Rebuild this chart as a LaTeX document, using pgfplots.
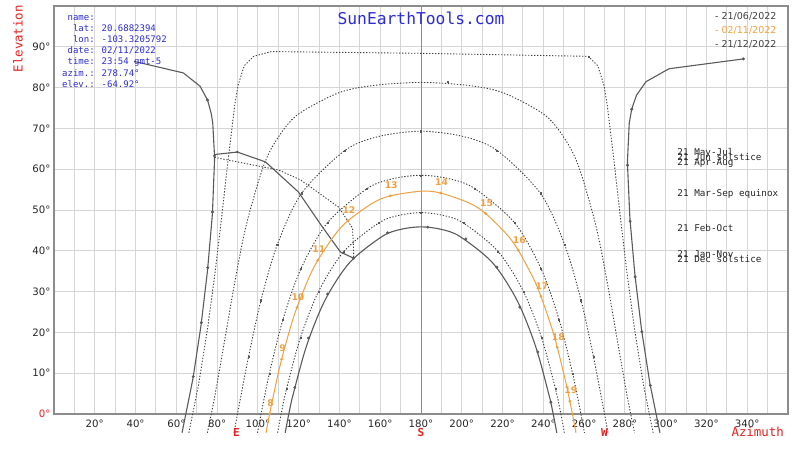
\documentclass[border=0pt]{standalone}
\usepackage{pgfplots}
\pgfplotsset{compat=1.18}
\usepackage{fontspec}
\setmainfont{DejaVu Sans}
\newfontfamily\monofont{DejaVu Sans Mono}
\definecolor{curvegray}{HTML}{5A5A5A}
\definecolor{dotgray}{HTML}{3C3C3C}
\definecolor{sunorange}{HTML}{F0A040}
\definecolor{infoblue}{HTML}{2B2BD8}
\definecolor{axred}{HTML}{E82020}
\definecolor{gridgray}{HTML}{D6D6D6}
\definecolor{framegray}{HTML}{8C8C8C}
\begin{document}
\begin{tikzpicture}
\begin{axis}[
  name=ax, at={(0,0)}, anchor=south west,
  scale only axis, width=734bp, height=408bp,
  xmin=0, xmax=360, ymin=0, ymax=100,
  clip=false,
  xtick={20,40,...,340},
  xticklabels={20°,40°,60°,80°,100°,120°,140°,160°,180°,200°,220°,240°,260°,280°,300°,320°,340°},
  minor xtick={10,30,...,350},
  ytick={0,10,...,90},
  yticklabels={{\textcolor{axred}{0°}},10°,20°,30°,40°,50°,60°,70°,80°,90°},
  grid=both,
  major grid style={draw=gridgray, line width=0.9bp},
  minor grid style={draw=gridgray, line width=0.9bp},
  major tick length=0pt, minor tick length=0pt,
  axis line style={draw=framegray, line width=1.2bp},
  tick label style={font=\fontsize{10.2bp}{12bp}\selectfont, text=black!85},
  xticklabel style={yshift=-2bp},
  solidc/.style={curvegray, line width=1.1bp},
  dotc/.style={dotgray, line width=0.9bp, dash pattern=on 1.3bp off 1.7bp},
  dotsm/.style={only marks, mark=*, mark size=1.3bp, curvegray, mark options={fill=curvegray}},
  dotsd/.style={only marks, mark=square*, mark size=0.55bp, dotgray!85, mark options={fill=dotgray!85}},
]
% meridian S
\addplot[framegray, line width=1bp] coordinates {(180,0) (180,100)};

% June solstice (solid), morning and afternoon parts
\addplot[solidc] coordinates {(39.33,86.42) (63.43,83.60) (71.63,80.34) (75.30,76.97) (77.14,73.58) (77.86,71.29) (78.73,63.27) (78.73,62.11) (77.73,49.51) (77.58,48.37) (75.42,35.86) (75.19,34.73) (72.28,22.38) (71.98,21.27) (68.30,9.16) (67.92,8.08) (62.8,-4.6)};
\addplot[solidc] coordinates {(338.1,87.03) (301.63,84.62) (290.35,81.45) (285.65,78.10) (283.34,74.70) (282.14,71.29) (281.27,62.11) (281.29,60.97) (282.42,48.37) (282.58,47.24) (284.81,34.73) (285.04,33.60) (288.02,21.27) (288.32,20.16) (292.08,8.08) (292.46,7.00) (297.2,-4.6)};
\addplot[dotsm] coordinates {(75.30,76.97) (78.73,63.27) (77.73,49.51) (75.42,35.86) (72.28,22.38) (68.30,9.16) (338.1,87.03) (283.34,74.70) (281.29,60.97) (282.58,47.24) (285.04,33.60) (288.32,20.16) (292.46,7.00)};

% 21 May-Jul
\addplot[dotc] coordinates {(66.14,-4.6) (70.86,7.06) (75.18,20.48) (78.87,34.16) (82.17,48.00) (85.31,61.95) (88.73,75.96) (90.31,80.64) (93.27,85.32) (97.92,87.66) (106.6,88.83) (180,88.4) (262.08,87.66) (266.73,85.32) (269.69,80.64) (271.27,75.96) (274.69,61.95) (277.83,48.00) (281.13,34.16) (284.82,20.48) (289.14,7.06) (293.86,-4.6)};
\addplot[dotsd] coordinates {(262.08,87.66) (193,81.4)};
% 21 Apr-Aug
\addplot[dotc, smooth] coordinates {(75.26,-4.6) (78.80,4.20) (83.71,18.06) (88.59,32.06) (94.19,46.08) (102.19,59.97) (108.55,66.73) (118.97,73.16) (139.43,78.69) (157.13,80.55) (180,81.26) (202.87,80.55) (220.57,78.69) (241.03,73.16) (251.45,66.73) (257.81,59.97) (265.81,46.08) (271.41,32.06) (276.29,18.06) (281.20,4.20) (284.74,-4.6)};
% 21 Mar-Sep
\addplot[dotc, smooth] coordinates {(88.3,-4.6) (90,0) (95.41,14.01) (101.53,27.89) (109.46,41.41) (121.47,54.12) (142.79,64.63) (159.57,68.06) (180,69.31) (200.43,68.06) (217.21,64.63) (238.53,54.12) (250.54,41.41) (258.47,27.89) (264.59,14.01) (270,0) (271.7,-4.6)};
\addplot[dotsd] coordinates {(95.41,14.01) (101.53,27.89) (109.46,41.41) (121.47,54.12) (142.79,64.63) (180,69.31) (217.21,64.63) (238.53,54.12) (250.54,41.41) (258.47,27.89) (264.59,14.01)};
% 21 Feb-Oct
\addplot[dotc, smooth] coordinates {(99.83,-4.6) (101.56,0) (105.61,9.88) (112.30,23.16) (121.20,35.70) (134.09,46.86) (153.53,55.23) (166.13,57.66) (180,58.51) (193.87,57.66) (206.47,55.23) (225.91,46.86) (238.80,35.70) (247.70,23.16) (254.39,9.88) (258.44,0) (260.17,-4.6)};
\addplot[dotsd] coordinates {(105.61,9.88) (112.30,23.16) (121.20,35.70) (134.09,46.86) (153.53,55.23) (180,58.51) (206.47,55.23) (225.91,46.86) (238.80,35.70) (247.70,23.16) (254.39,9.88)};
% 21 Jan-Nov
\addplot[dotc, smooth] coordinates {(109.70,-4.6) (111.39,0) (114.05,6.14) (120.80,18.61) (129.81,30.08) (142.24,39.87) (159.19,46.80) (169.29,48.70) (180,49.36) (190.71,48.70) (200.81,46.80) (217.76,39.87) (230.19,30.08) (239.20,18.61) (245.95,6.14) (248.61,0) (250.30,-4.6)};
\addplot[dotsd] coordinates {(114.05,6.14) (120.80,18.61) (129.81,30.08) (142.24,39.87) (159.19,46.80) (180,49.36) (200.81,46.80) (217.76,39.87) (230.19,30.08) (239.20,18.61) (245.95,6.14)};

% Dec solstice (solid)
\addplot[solidc, smooth] coordinates {(113.4,-4.6) (115.16,0) (117.23,4.68) (123.91,16.77) (132.83,27.80) (144.91,37.07) (160.91,43.51) (170.21,45.27) (180,45.87) (189.79,45.27) (199.09,43.51) (215.09,37.07) (227.17,27.80) (236.09,16.77) (242.77,4.68) (244.84,0) (246.6,-4.6)};
\addplot[dotsm] coordinates {(118.08,6.46) (124.8,18.6) (134.2,29.4) (146.95,38.19) (163.6,44.4) (183.3,45.8) (202,42.9) (217.2,36) (228.5,26.2) (237.3,15.2) (243.7,2.9)};

% 12:00 analemma halves
\addplot[solidc] coordinates {(78.7,63.6) (89.9,64.2) (103.7,61.8) (119.9,54.4) (131.7,45.8) (140.5,39.7) (146.95,38.19)};
\addplot[dotsm, mark size=1.1bp] coordinates {(89.9,64.2)};
\addplot[dotc] coordinates {(78.7,62.9) (110.1,59.8) (120.9,57.4) (139.6,50.7) (146.4,45.6) (146.9,40.9) (146.95,38.19)};

% 02/11/2022 (orange)
\addplot[sunorange, line width=1bp, smooth] coordinates {(103.99,-4.6) (105.74,0) (109.23,8.31) (111.64,13.40) (115.98,21.27) (119.14,26.08) (125.01,33.38) (129.41,37.70) (137.80,43.95) (144.17,47.37) (156.19,51.67) (164.9,53.47) (180,54.61) (189.62,54.16) (203.81,51.67) (211.66,49.14) (222.20,43.95) (227.71,40.11) (234.99,33.38) (238.85,28.81) (244.02,21.27) (246.84,16.34) (250.77,8.31) (252.99,3.15) (254.26,0) (256.01,-4.6)};
\addplot[only marks, mark=*, mark size=1.2bp, sunorange, mark options={fill=sunorange},
  nodes near coords, point meta=explicit symbolic,
  nodes near coords style={font=\bfseries\fontsize{9.2bp}{10bp}\selectfont, text=sunorange, anchor=south, inner sep=1bp, yshift=6bp, xshift=1bp}]
  table[meta=h] {
x y h
105.78 0.10 8
111.64 13.40 9
119.14 26.08 10
129.41 37.70 11
144.17 47.37 12
164.90 53.47 13
189.62 54.16 14
211.66 49.14 15
227.71 40.11 16
238.85 28.81 17
246.84 16.34 18
252.99 3.15 19
};

% title and info box
\node[font=\monofont\fontsize{16.3bp}{18bp}\selectfont, text=infoblue] at (rel axis cs:0.5,1) [yshift=-12bp] {SunEarthTools.com};
\node[anchor=north west, inner sep=0pt, font=\monofont\fontsize{9bp}{11.2bp}\selectfont, text=infoblue] at (rel axis cs:0,1) [xshift=8bp, yshift=-6bp]
  {\begin{tabular}{@{}r@{\hspace{7bp}}l@{}}
  name: & \\
  lat: & 20.6882394\\
  lon: & -103.3205792\\
  date: & 02/11/2022\\
  time: & 23:54 gmt-5\\
  azim.: & 278.74°\\
  elev.: & -64.92°
  \end{tabular}};

% legend (top right)
\node[anchor=west, inner sep=0pt, font=\fontsize{9.5bp}{11bp}\selectfont, text=black!75] at (axis cs:324.2,97.5) {- 21/06/2022};
\node[anchor=west, inner sep=0pt, font=\fontsize{9.5bp}{11bp}\selectfont, text=sunorange] at (axis cs:324.2,93.9) {- 02/11/2022};
\node[anchor=west, inner sep=0pt, font=\fontsize{9.5bp}{11bp}\selectfont, text=black!75] at (axis cs:324.2,90.7) {- 21/12/2022};

% curve labels (right)
\begin{scope}[every node/.style={anchor=west, inner sep=0pt, font=\monofont\fontsize{9.3bp}{11bp}\selectfont, text=black!85}]
\node at (axis cs:305.7,64.0) {21 May-Jul};
\node at (axis cs:305.7,63.0) {21 Jun solstice};
\node at (axis cs:305.7,61.5) {21 Apr-Aug};
\node at (axis cs:305.7,53.9) {21 Mar-Sep equinox};
\node at (axis cs:305.7,45.6) {21 Feb-Oct};
\node at (axis cs:305.7,39.2) {21 Jan-Nov};
\node at (axis cs:305.7,38.0) {21 Dec solstice};
\end{scope}

% cardinal points and axis names
\begin{scope}[every node/.style={inner sep=0pt, text=axred}]
\node[font=\monofont\bfseries\fontsize{11bp}{12bp}\selectfont] at (axis cs:89.5,0) [yshift=-18bp] {E};
\node[font=\monofont\bfseries\fontsize{11bp}{12bp}\selectfont] at (axis cs:180,0) [yshift=-18bp] {S};
\node[font=\monofont\bfseries\fontsize{11bp}{12bp}\selectfont] at (axis cs:270,0) [yshift=-18bp] {W};
\node[anchor=east, font=\monofont\fontsize{12.4bp}{14bp}\selectfont] at (rel axis cs:1,0) [xshift=-4bp, yshift=-18bp] {Azimuth};
\node[anchor=east, rotate=90, font=\monofont\fontsize{12.4bp}{14bp}\selectfont] at ([shift={(-36bp,1bp)}]rel axis cs:0,1) {Elevation};
\end{scope}
\end{axis}
\pgfresetboundingbox
\path ([xshift=-54bp,yshift=-45bp]ax.south west) rectangle ([xshift=12bp,yshift=6bp]ax.north east);
\end{tikzpicture}
\end{document}
